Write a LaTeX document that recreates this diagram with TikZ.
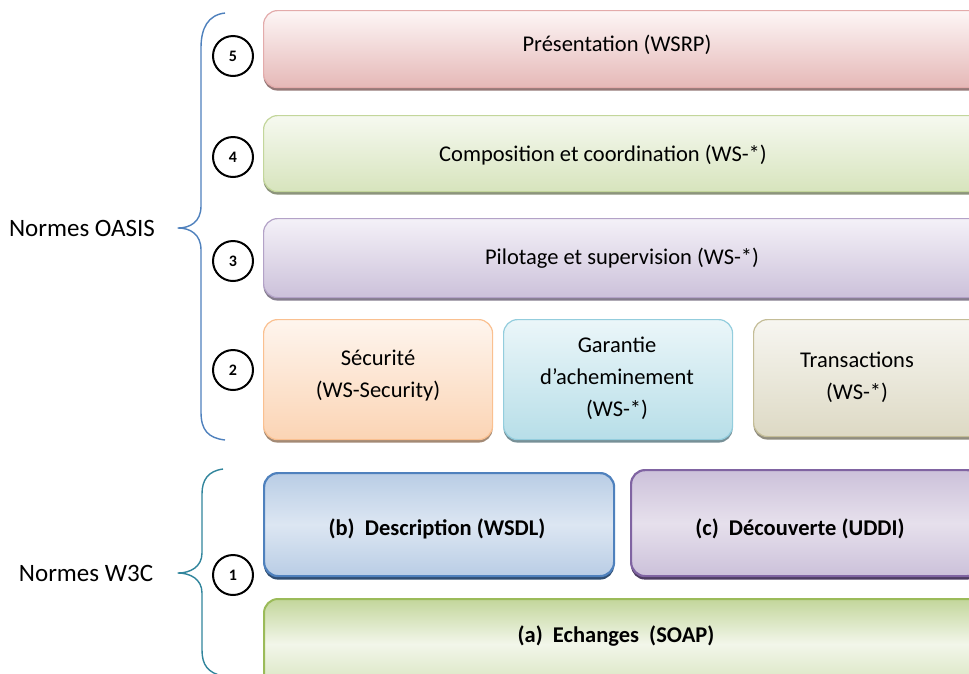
\documentclass[tikz,border=0pt]{standalone}
\usepackage{fontspec}
\setmainfont{Carlito}
\usetikzlibrary{shadows}
\definecolor{pinkB}{HTML}{E5B8B7}\definecolor{pinkT}{HTML}{FDF6F6}\definecolor{pinkD}{HTML}{E3ABAB}
\definecolor{grnB}{HTML}{D7E4BD}\definecolor{grnT}{HTML}{F6F9F0}\definecolor{grnD}{HTML}{C3D69B}
\definecolor{purB}{HTML}{CCC1DA}\definecolor{purT}{HTML}{F4F1F8}\definecolor{purD}{HTML}{B3A2C7}
\definecolor{orB}{HTML}{FBD4B4}\definecolor{orT}{HTML}{FEF5EE}\definecolor{orD}{HTML}{FAC090}
\definecolor{aqB}{HTML}{B7DEE8}\definecolor{aqT}{HTML}{EBF6F9}\definecolor{aqD}{HTML}{93CDDD}
\definecolor{tnB}{HTML}{DDD9C4}\definecolor{tnT}{HTML}{F7F6F1}\definecolor{tnD}{HTML}{C4BD97}
\definecolor{blB}{HTML}{B9CDE5}\definecolor{blM}{HTML}{DCE6F2}\definecolor{blD}{HTML}{4F81BD}
\definecolor{vlB}{HTML}{CCC1DA}\definecolor{vlM}{HTML}{E6E0EC}\definecolor{vlD}{HTML}{8064A2}
\definecolor{sgT}{HTML}{C3D69B}\definecolor{sgM}{HTML}{F2F6EA}\definecolor{sgB}{HTML}{D7E4BD}\definecolor{sgD}{HTML}{9BBB59}
\definecolor{braceA}{HTML}{4F81BD}\definecolor{braceB}{HTML}{31859C}
\tikzset{
  layer/.style={rounded corners=14pt, line width=1.2pt, inner sep=0pt, anchor=north west},
  lightbox/.style n args={3}{layer, draw=#3, top color=#2, bottom color=#1,
     general shadow={fill=black!35!#1, shadow yshift=-3pt}},
  strongbox/.style n args={3}{layer, line width=2.2pt, draw=#1, top color=#2, bottom color=#2, middle color=#3,
     general shadow={fill=#1!60!black, shadow yshift=-3.5pt}},
  num/.style={circle, draw=black, line width=2pt, minimum size=40pt, inner sep=0pt,
     font=\fontsize{16}{16}\selectfont\bfseries},
  lbl/.style={font=\fontsize{22.5}{32}\selectfont, align=center, text=black, inner sep=0pt},
  side/.style={font=\fontsize{25}{30}\selectfont, text=black, inner sep=0pt},
  blbl/.style={font=\fontsize{22.5}{32}\selectfont\bfseries, align=center, text=black, inner sep=0pt},
  brace/.style={line width=1.4pt, line join=round}
}
\begin{document}
\begin{tikzpicture}[x=1pt,y=-1pt]
\path[use as bounding box, clip] (0,0) rectangle (969,673);
\fill[white] (0,0) rectangle (969,673);
% OASIS layers
\node[lightbox={pinkB}{pinkT}{pinkD}, minimum width=720pt, minimum height=77pt] (p5) at (263,10) {};
\node[lightbox={grnB}{grnT}{grnD}, minimum width=720pt, minimum height=76pt] (p4) at (263,115) {};
\node[lightbox={purB}{purT}{purD}, minimum width=720pt, minimum height=79pt] (p3) at (263,218) {};
\node[lightbox={orB}{orT}{orD}, minimum width=229pt, minimum height=120pt] (sec) at (263,319) {};
\node[lightbox={aqB}{aqT}{aqD}, minimum width=229pt, minimum height=120pt] (gar) at (503,319) {};
\node[lightbox={tnB}{tnT}{tnD}, minimum width=230pt, minimum height=117pt] (tra) at (753,319) {};
% W3C layers
\node[strongbox={blD}{blB}{blM}, minimum width=350pt, minimum height=103pt] (wsdl) at (263,472) {};
\node[strongbox={vlD}{vlB}{vlM}, minimum width=350pt, minimum height=106pt] (uddi) at (630,469) {};
\node[layer, line width=2pt, draw=sgD, top color=sgT, bottom color=sgB, middle color=sgM,
      minimum width=720pt, minimum height=90pt] (soap) at (263,598) {};
% texts
\node[lbl] (t5) at (617,45) {Présentation (WSRP)};
\node[lbl] (t4) at (603,155) {Composition et coordination (WS-*)};
\node[lbl] (t3) at (622,258) {Pilotage et supervision (WS-*)};
\node[lbl] (tsec) at (378,376) {Sécurité\\(WS-Security)};
\node[lbl] (tgar) at (617,378) {Garantie\\d’acheminement\\(WS-*)};
\node[lbl] (ttra) at (857,377) {Transactions\\(WS-*)};
\node[blbl] (twsdl) at (437,529) {(b)\ \ Description (WSDL)};
\node[blbl] (tuddi) at (800,529) {(c)\ \ Découverte (UDDI)};
\node[blbl] (tsoap) at (616,636) {(a)\ \ Echanges\ \ (SOAP)};
% numbers
\node[num] (n5) at (233,56) {5};
\node[num] (n4) at (233,157) {4};
\node[num] (n3) at (233,261) {3};
\node[num] (n2) at (233,370) {2};
\node[num] (n1) at (233,575) {1};
% braces
\coordinate (oa) at (225,13);
\coordinate (ob) at (225,440);
\coordinate (otip) at (178,228);
\draw[brace, draw=braceA] (oa) .. controls (208,15) and (201,28) .. (201,48) -- (201,206)
   .. controls (201,222) and (190,228) .. (otip)
   .. controls (190,228) and (201,234) .. (201,250) -- (201,412)
   .. controls (201,430) and (208,438) .. (ob);
\coordinate (wa) at (223,469);
\coordinate (wb) at (223,676);
\coordinate (wtip) at (178,573);
\draw[brace, draw=braceB] (wa) .. controls (208,471) and (202,480) .. (202,494) -- (202,553)
   .. controls (202,567) and (190,573) .. (wtip)
   .. controls (190,573) and (202,579) .. (202,593) -- (202,650)
   .. controls (202,665) and (208,673) .. (wb);
\node[side] (noasis) at (82,228) {Normes OASIS};
\node[side] (nw3c) at (86,573) {Normes W3C};
\end{tikzpicture}
\end{document}
